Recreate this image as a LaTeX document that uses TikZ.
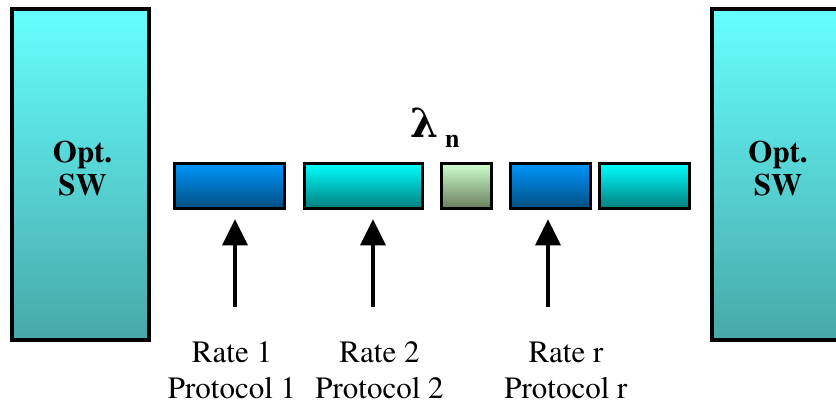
\documentclass[tikz,border=0pt]{standalone}
\usepackage{fontspec}
\setmainfont{texgyretermes}[Extension=.otf, UprightFont=*-regular, BoldFont=*-bold, ItalicFont=*-italic, BoldItalicFont=*-bolditalic]
\newfontfamily\greekface{DejaVu Serif}
\usetikzlibrary{arrows.meta,shadows}
\definecolor{swtop}{RGB}{102,255,255}
\definecolor{swbot}{RGB}{72,168,168}
\definecolor{bluetop}{RGB}{0,150,255}
\definecolor{bluebot}{RGB}{0,78,128}
\definecolor{cyantop}{RGB}{0,255,255}
\definecolor{cyanbot}{RGB}{0,125,125}
\definecolor{greentop}{RGB}{206,255,206}
\definecolor{greenbot}{RGB}{104,126,92}
\tikzset{
  switchbox/.style={draw=black, line width=4pt, inner sep=0pt,
    top color=swtop, bottom color=swbot, minimum height=331pt},
  switchlabel/.style={align=center, inner sep=0pt,
    font=\fontsize{31}{33}\selectfont\bfseries},
  slot/.style={draw=black, line width=3.5pt, inner sep=0pt,
    minimum height=45pt,
    drop shadow={shadow xshift=1.5pt, shadow yshift=-1.5pt, fill=black!25, opacity=1}},
  blueslot/.style={slot, top color=bluetop, bottom color=bluebot},
  cyanslot/.style={slot, top color=cyantop, bottom color=cyanbot},
  greenslot/.style={slot, top color=greentop, bottom color=greenbot},
  feed/.style={line width=3.5pt, -{Triangle[width=25pt,length=26pt]}, shorten >=9pt},
  caption/.style={align=center, anchor=base, font=\fontsize{31}{36}\selectfont}
}
\begin{document}
\begin{tikzpicture}[x=1pt,y=-1pt]
  \useasboundingbox (0,0) rectangle (836,404);
  % optical switches at both ends
  \node[switchbox, minimum width=137pt] (swL) at (80.5,174.5) {};
  \node[switchbox, minimum width=131pt] (swR) at (777.5,174.5) {};
  \node[switchlabel, anchor=base] (swLtext) at (82.5,195) {Opt.\\SW};
  \node[switchlabel, anchor=base] (swRtext) at (778,195) {Opt.\\SW};
  % wavelength slots
  \node[blueslot,  minimum width=110pt] (b1) at (229.5,186) {};
  \node[cyanslot,  minimum width=118pt] (b2) at (363.5,186) {};
  \node[greenslot, minimum width=50pt]  (b3) at (466.5,186) {};
  \node[blueslot,  minimum width=80pt]  (b4) at (550.5,186) {};
  \node[cyanslot,  minimum width=90pt]  (b5) at (644.5,186) {};
  % wavelength label
  \node[anchor=base west, inner sep=0pt, font=\greekface\fontsize{40}{40}\selectfont\bfseries] (lam) at (410,137) {λ};
  \node[anchor=base west, inner sep=0pt, font=\fontsize{26}{26}\selectfont\bfseries] (lamn) at (445,147) {n};
  % feeding arrows
  \coordinate (s1) at (235,307);
  \coordinate (s2) at (373,307);
  \coordinate (s3) at (548,307);
  \draw[feed] (s1) -- (s1 |- b1.south);
  \draw[feed] (s2) -- (s2 |- b2.south);
  \draw[feed] (s3) -- (s3 |- b4.south);
  % captions (anchored on the baseline of the last line)
  \node[caption] (c1) at (232,398) {Rate 1\\Protocol 1};
  \node[caption] (c2) at (379.5,398) {Rate 2\\Protocol 2};
  \node[caption] (c3) at (566,398) {Rate r\\Protocol r};
\end{tikzpicture}
\end{document}
